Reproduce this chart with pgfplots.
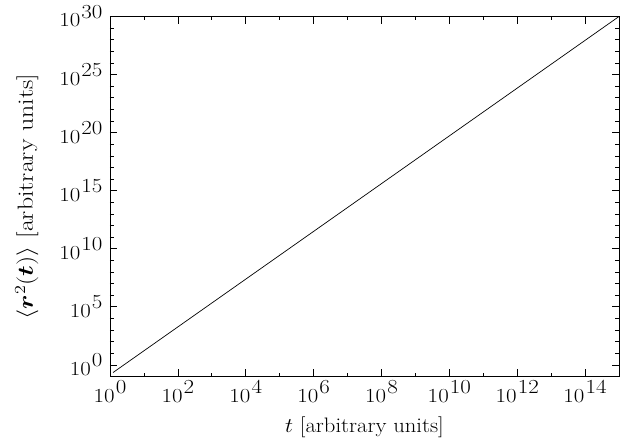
\RequirePackage{fix-cm}
\documentclass[border=0pt]{standalone}
\usepackage{fontspec}
\setmainfont{lmroman17-regular.otf}[BoldFont=lmroman10-bold.otf, ItalicFont=lmroman10-italic.otf]
\usepackage{pgfplots}
\usepackage{bm}
\usepackage{graphicx}
\pgfplotsset{compat=1.18}
\begin{document}
\begin{tikzpicture}[x=1bp,y=1bp]
\begin{axis}[
  name=main,
  scale only axis,
  width=509bp, height=360bp,
  xmode=log, ymode=log,
  log basis x=10, log basis y=10,
  xmin=1, xmax=1e15,
  ymin=0.1, ymax=1e30,
  xtick={1,1e2,1e4,1e6,1e8,1e10,1e12,1e14},
  minor xtick={1e1,1e3,1e5,1e7,1e9,1e11,1e13,1e15},
  ytick={1,1e5,1e10,1e15,1e20,1e25,1e30},
  minor ytick={1e1,1e2,1e3,1e4,1e6,1e7,1e8,1e9,1e11,1e12,1e13,1e14,1e16,1e17,1e18,1e19,1e21,1e22,1e23,1e24,1e26,1e27,1e28,1e29},
  log number format basis/.code 2 args={{\fontsize{20}{22}\selectfont\scalebox{1.15}[1]{10\hspace{1pt}\raisebox{0.42em}{\pgfmathprintnumber{#2}}}}},
  tick align=inside,
  major tick length=7.5bp,
  minor tick length=4bp,
  tick style={black, line width=0.7pt},
  axis line style={line width=0.8pt},
  every tick label/.append style={font=\fontsize{20}{22}\selectfont},
  xticklabel style={yshift=-1bp},
  yticklabel style={xshift=-4bp},
  xlabel={\scalebox{1.08}[1]{$t$ [arbitrary units]}},
  ylabel={\scalebox{1.18}[1]{$\langle \bm{r}^{2}(\bm{t})\rangle$ [arbitrary units]}},
  xlabel style={font=\fontsize{21}{23}\selectfont, at={(axis description cs:0.5,0)}, anchor=base, yshift=-56bp},
  ylabel style={font=\fontsize{22}{24}\selectfont, at={([xshift=-77bp]axis description cs:0,0.5)}, anchor=base},
]
\addplot[black, line width=0.7pt, no markers] coordinates {
  (1.23, 0.22) (1e15, 1e30)
};
\end{axis}
\useasboundingbox ([xshift=-110bp,yshift=-66.5bp]main.south west) rectangle ([xshift=10bp,yshift=16.5bp]main.north east);
\end{tikzpicture}
\end{document}
